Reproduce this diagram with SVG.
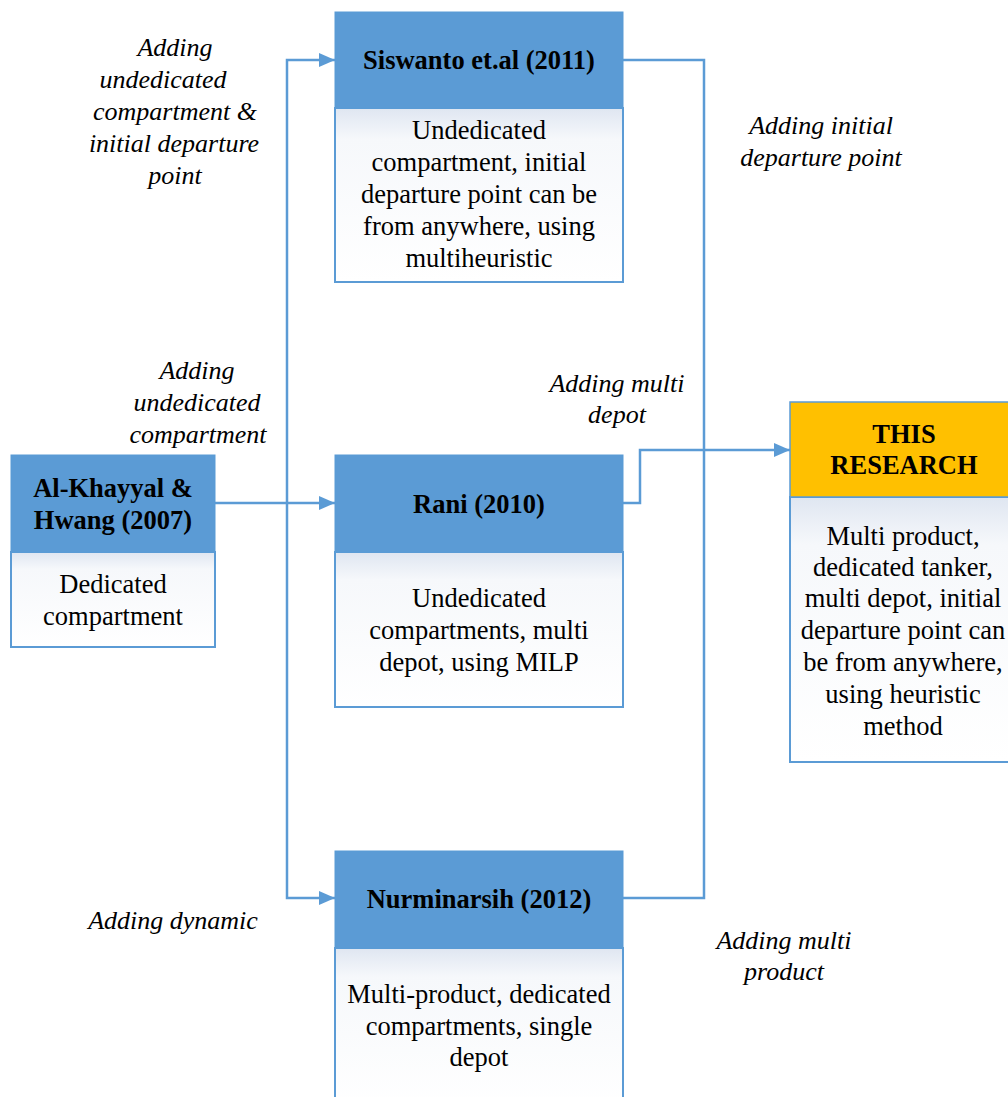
<svg xmlns="http://www.w3.org/2000/svg" width="1008" height="1097" viewBox="0 0 1008 1097">
<defs>
<linearGradient id="bodyGrad" x1="0" y1="0" x2="0" y2="1">
<stop offset="0" stop-color="#dfe6f1"/>
<stop offset="0.18" stop-color="#f6f8fb"/>
<stop offset="1" stop-color="#ffffff"/>
</linearGradient>
<marker id="arr" markerWidth="16" markerHeight="14" refX="16" refY="7" orient="auto" markerUnits="userSpaceOnUse">
<path d="M0,0 L16,7 L0,14 Z" fill="#5B9BD5"/>
</marker>
</defs>
<style>
.hdr{fill:#5B9BD5;stroke:#5B9BD5;stroke-width:1}
.gold{fill:#FFC000;stroke:#5B9BD5;stroke-width:1.5}
.body{fill:url(#bodyGrad);stroke:#5B9BD5;stroke-width:2}
.ht{font-family:"Liberation Serif",serif;font-weight:bold;font-size:26.5px;text-anchor:middle;fill:#000}
.bt{font-family:"Liberation Serif",serif;font-size:26.5px;text-anchor:middle;fill:#000}
.lb{font-family:"Liberation Serif",serif;font-style:italic;font-size:26px;text-anchor:middle;fill:#000}
.con{fill:none;stroke:#5B9BD5;stroke-width:2.5}
</style>
<rect width="1008" height="1097" fill="#ffffff"/>

<g id="connectors">
<path class="con" d="M215,503 H335" marker-end="url(#arr)"/>
<path class="con" d="M287,503 V60 H335" marker-end="url(#arr)"/>
<path class="con" d="M287,503 V898 H335" marker-end="url(#arr)"/>
<path class="con" d="M623,60 H704 V898 H623"/>
<path class="con" d="M623,503 H640 V450 H790" marker-end="url(#arr)"/>
</g>

<g id="siswanto">
<rect class="body" x="335" y="108" width="288" height="174"/>
<rect class="hdr" x="335" y="12" width="288" height="96"/>
<text class="ht" x="479" y="69">Siswanto et.al (2011)</text>
<text class="bt" x="479" y="139">Undedicated</text>
<text class="bt" x="479" y="171">compartment, initial</text>
<text class="bt" x="479" y="203">departure point can be</text>
<text class="bt" x="479" y="235">from anywhere, using</text>
<text class="bt" x="479" y="267">multiheuristic</text>
</g>

<g id="alkhayyal">
<rect class="body" x="11" y="552" width="204" height="95"/>
<rect class="hdr" x="11" y="455" width="204" height="97"/>
<text class="ht" x="113" y="497">Al-Khayyal &amp;</text>
<text class="ht" x="113" y="529">Hwang (2007)</text>
<text class="bt" x="113" y="593">Dedicated</text>
<text class="bt" x="113" y="625">compartment</text>
</g>

<g id="rani">
<rect class="body" x="335" y="552" width="288" height="155"/>
<rect class="hdr" x="335" y="455" width="288" height="97"/>
<text class="ht" x="479" y="513">Rani (2010)</text>
<text class="bt" x="479" y="607">Undedicated</text>
<text class="bt" x="479" y="639">compartments, multi</text>
<text class="bt" x="479" y="671">depot, using MILP</text>
</g>

<g id="nurminarsih">
<rect class="body" x="335" y="948" width="288" height="160"/>
<rect class="hdr" x="335" y="851" width="288" height="97"/>
<text class="ht" x="479" y="908">Nurminarsih (2012)</text>
<text class="bt" x="479" y="1003">Multi-product, dedicated</text>
<text class="bt" x="479" y="1035">compartments, single</text>
<text class="bt" x="479" y="1066">depot</text>
</g>

<g id="thisresearch">
<rect class="body" x="790" y="497" width="230" height="265"/>
<rect class="gold" x="790" y="402" width="230" height="95"/>
<text class="ht" x="904" y="443">THIS</text>
<text class="ht" x="904" y="474">RESEARCH</text>
<text class="bt" x="903" y="545">Multi product,</text>
<text class="bt" x="903" y="576">dedicated tanker,</text>
<text class="bt" x="903" y="607">multi depot, initial</text>
<text class="bt" x="903" y="639">departure point can</text>
<text class="bt" x="903" y="671">be from anywhere,</text>
<text class="bt" x="903" y="703">using heuristic</text>
<text class="bt" x="903" y="735">method</text>
</g>

<g id="labels">
<text class="lb" x="175" y="56">Adding</text>
<text class="lb" x="163" y="88">undedicated</text>
<text class="lb" x="175" y="120">compartment &amp;</text>
<text class="lb" x="174" y="152">initial departure</text>
<text class="lb" x="175" y="184">point</text>
<text class="lb" x="821" y="134">Adding initial</text>
<text class="lb" x="821" y="166">departure point</text>
<text class="lb" x="197" y="379">Adding</text>
<text class="lb" x="197" y="411">undedicated</text>
<text class="lb" x="198" y="443">compartment</text>
<text class="lb" x="617" y="392">Adding multi</text>
<text class="lb" x="617" y="423">depot</text>
<text class="lb" x="173" y="929">Adding dynamic</text>
<text class="lb" x="784" y="949">Adding multi</text>
<text class="lb" x="784" y="980">product</text>
</g>
</svg>
